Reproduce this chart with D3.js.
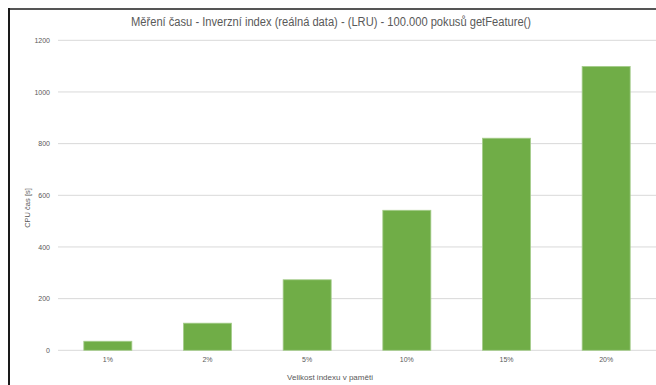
<!DOCTYPE html>
<html>
<head>
<meta charset="utf-8">
<script src="https://cdn.jsdelivr.net/npm/d3@7"></script>
<style>
  html, body { margin: 0; padding: 0; background: #fff; }
  svg { display: block; }
  text { font-family: "Liberation Sans", Arial, sans-serif; fill: #595959; }
</style>
</head>
<body>
<script>
// Chart content
const titleText = "Měření času - Inverzní index (reálná data) - (LRU) - 100.000 pokusů getFeature()";
const categories = ["1%", "2%", "5%", "10%", "15%", "20%"];
const cpuTime = [35, 105, 273, 542, 821, 1099];
const yTicks = [0, 200, 400, 600, 800, 1000, 1200];
const yTitle = "CPU čas [s]";
const xTitle = "Velikost indexu v paměti";

const W = 656, H = 385;
const plot = { left: 58, right: 656, top: 40.3, bottom: 350.3 };

const svg = d3.select("body").append("svg")
  .attr("width", W).attr("height", H);

svg.append("rect").attr("width", W).attr("height", H).attr("fill", "#fff");

// frame edges (top and left)
svg.append("rect").attr("x", 8).attr("y", 8).attr("width", W - 8).attr("height", 2).attr("fill", "#555");
svg.append("rect").attr("x", 8).attr("y", 8).attr("width", 2).attr("height", H - 8).attr("fill", "#1a1a1a");

const x = d3.scaleBand()
  .domain(categories)
  .range([plot.left, plot.right])
  .paddingInner(0.518)
  .paddingOuter(0.259);

const y = d3.scaleLinear()
  .domain([0, 1200])
  .range([plot.bottom, plot.top]);

// horizontal gridlines
svg.append("g")
  .selectAll("line")
  .data(yTicks)
  .join("line")
  .attr("x1", plot.left).attr("x2", plot.right)
  .attr("y1", d => y(d)).attr("y2", d => y(d))
  .attr("stroke", "#d9d9d9").attr("stroke-width", 1);

// y axis labels
const yAxis = d3.axisLeft(y).tickValues(yTicks).tickFormat(d3.format("d")).tickSize(0).tickPadding(0);
const gy = svg.append("g")
  .attr("transform", `translate(${plot.left - 8},0)`)
  .attr("color", "#595959")
  .call(yAxis);
gy.select(".domain").remove();
gy.selectAll("text")
  .attr("fill", "#595959")
  .style("font-size", "7px")
  .style("font-family", "Liberation Sans, Arial, sans-serif");

// bars
svg.append("g")
  .selectAll("rect")
  .data(categories.map((c, i) => ({ c, v: cpuTime[i] })))
  .join("rect")
  .attr("x", d => x(d.c))
  .attr("y", d => y(d.v))
  .attr("width", x.bandwidth())
  .attr("height", d => y(0) - y(d.v))
  .attr("fill", "#70ad47")
  .attr("stroke", "#a6cd8c")
  .attr("stroke-width", 0.8);

// x axis labels
const xAxis = d3.axisBottom(x).tickSize(0).tickPadding(0);
const gx = svg.append("g")
  .attr("transform", `translate(0,${plot.bottom + 7})`)
  .attr("color", "#595959")
  .call(xAxis);
gx.select(".domain").remove();
gx.selectAll("text")
  .attr("fill", "#595959")
  .style("font-size", "7px")
  .style("font-family", "Liberation Sans, Arial, sans-serif");

// title
svg.append("text")
  .attr("x", 331).attr("y", 26)
  .attr("text-anchor", "middle")
  .attr("textLength", 400)
  .attr("lengthAdjust", "spacingAndGlyphs")
  .style("font-size", "12.5px")
  .text(titleText);

// axis titles
svg.append("text")
  .attr("transform", "translate(30,208) rotate(-90)")
  .attr("text-anchor", "middle")
  .style("font-size", "7.5px")
  .text(yTitle);

svg.append("text")
  .attr("x", 330).attr("y", 380)
  .attr("text-anchor", "middle")
  .style("font-size", "8px")
  .text(xTitle);
</script>
</body>
</html>
